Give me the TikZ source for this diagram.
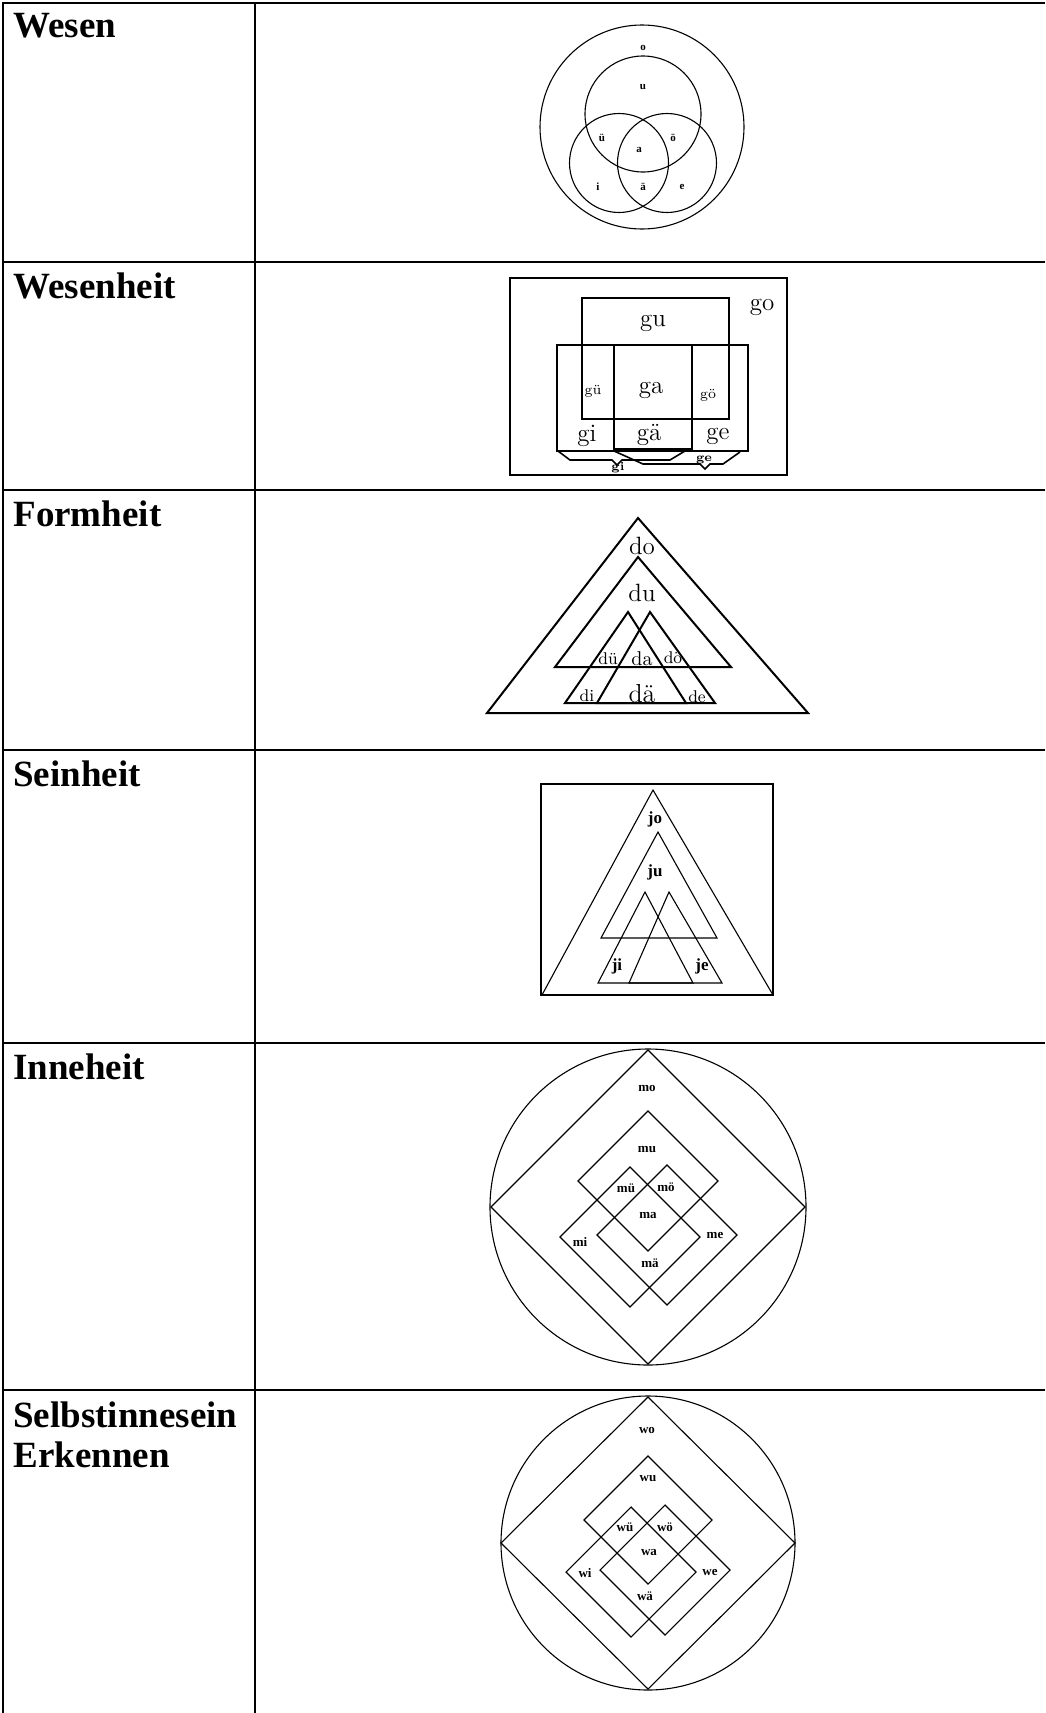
\documentclass[tikz,border=0pt]{standalone}
\usepackage{fontspec}
\newfontfamily\tnr{Liberation Serif}
\usetikzlibrary{positioning}
\tikzset{
  tabline/.style={line width=1.1pt},
  hairline/.style={line width=0.55pt},
  boldline/.style={line width=1pt},
  braceline/.style={line width=0.8pt},
  rowlabel/.style={anchor=base west, inner sep=0pt, align=left,
    font=\tnr\bfseries\fontsize{18.5}{20}\selectfont},
  tinyvowel/.style={inner sep=0pt, font=\tnr\bfseries\fontsize{5.5}{6}\selectfont},
  bigsyl/.style={inner sep=0pt, font=\fontsize{12.5}{14}\selectfont},
  smallsyl/.style={inner sep=0pt, font=\fontsize{8.5}{10}\selectfont},
  bracesyl/.style={inner sep=0pt, font=\bfseries\fontsize{6}{7}\selectfont},
  boldsyl/.style={inner sep=0pt, font=\tnr\bfseries\fontsize{8.5}{10}\selectfont},
  tinysyl/.style={inner sep=0pt, font=\tnr\bfseries\fontsize{6.5}{8}\selectfont}
}

\begin{document}
\begin{tikzpicture}[x=0.5pt, y=-0.5pt]
  \useasboundingbox (0,0) rectangle (1045,1713);

  % Table
  \draw[tabline] (3,1713) -- (3,3) -- (1045,3);
  \draw[tabline] (255,3) -- (255,1713);
  \foreach \yrow in {262,490,750,1043,1390}
    \draw[tabline] (3,\yrow) -- (1045,\yrow);

  % Row labels
  \node[rowlabel] (lWesen) at (13,38) {Wesen};
  \node[rowlabel] (lWesenheit) at (13,298) {Wesenheit};
  \node[rowlabel] (lFormheit) at (13,526) {Formheit};
  \node[rowlabel] (lSeinheit) at (13,786) {Seinheit};
  \node[rowlabel] (lInneheit) at (13,1079) {Inneheit};
  \node[rowlabel] (lSelbst) at (13,1467) {Selbstinnesein\\Erkennen};

  % Wesen: circles
  \draw[hairline] (642,127) circle (102);
  \draw[hairline] (643,114) circle (58);
  \draw[hairline] (619,163) circle (49.5);
  \draw[hairline] (667,163) circle (49.5);
  \node[tinyvowel] (vO) at (643,48) {o};
  \node[tinyvowel] (vU) at (643,87) {u};
  \node[tinyvowel] (vUe) at (602,138) {ü};
  \node[tinyvowel] (vA) at (639,150) {a};
  \node[tinyvowel] (vOe) at (673,138) {ö};
  \node[tinyvowel] (vI) at (598,187) {i};
  \node[tinyvowel] (vAe) at (643,187) {ä};
  \node[tinyvowel] (vE) at (682,187) {e};

  % Wesenheit: boxes
  \draw[boldline] (510,278) rectangle (787,475);
  \draw[boldline] (582,298) rectangle (729,419);
  \draw[boldline] (557,345) rectangle (748,451);
  \draw[boldline] (614,345) rectangle (692,449);
  \draw[braceline] (558,451) -- (570,460) -- (612,460) -- (617,465) -- (622,460)
    -- (670,460) -- (685,451);
  \draw[braceline] (614,451) -- (643,464) -- (700,464) -- (705,469) -- (710,464)
    -- (723,464) -- (740,452);
  \node[bigsyl] (gO) at (762,307) {go};
  \node[bigsyl] (gU) at (653,323) {gu};
  \node[smallsyl, font=\fontsize{7}{8}\selectfont] (gUe) at (593,391) {gü};
  \node[bigsyl] (gA) at (651,390) {ga};
  \node[smallsyl, font=\fontsize{7}{8}\selectfont] (gOe) at (708,395) {gö};
  \node[bigsyl] (gI) at (587,436) {gi};
  \node[bigsyl] (gAe) at (649,435) {gä};
  \node[bigsyl] (gE) at (718,436) {ge};
  \node[bracesyl] (gIb) at (618,468) {gi};
  \node[bracesyl] (gEb) at (704,460) {ge};

  % Formheit: triangles
  \draw[boldline] (638,518) -- (808,713) -- (487,713) -- cycle;
  \draw[boldline] (638,557) -- (731,667) -- (555,667) -- cycle;
  \draw[boldline] (628,612) -- (686,703) -- (565,703) -- cycle;
  \draw[boldline] (650,612) -- (715,703) -- (597,703) -- cycle;
  \node[bigsyl] (dO) at (642,546) {do};
  \node[bigsyl] (dU) at (642,593) {du};
  \node[smallsyl] (dUe) at (608,659) {dü};
  \node[smallsyl, font=\fontsize{10}{12}\selectfont] (dA) at (642,659) {da};
  \node[smallsyl] (dOe) at (673,658) {dö};
  \node[smallsyl] (dI) at (587,696) {di};
  \node[bigsyl, font=\fontsize{13}{15}\selectfont] (dAe) at (642,694) {dä};
  \node[smallsyl] (dE) at (697,697) {de};

  % Seinheit: box and triangles
  \draw[hairline] (541,784) rectangle (773,995);
  \draw[hairline] (653,790) -- (773,995) -- (542,995) -- cycle;
  \draw[hairline] (658,832) -- (717,938) -- (601,938) -- cycle;
  \draw[hairline] (645,892) -- (693,983) -- (598,983) -- cycle;
  \draw[hairline] (669,892) -- (722,983) -- (629,983) -- cycle;
  \node[boldsyl] (jO) at (655,819) {jo};
  \node[boldsyl] (jU) at (655,872) {ju};
  \node[boldsyl] (jI) at (617,966) {ji};
  \node[boldsyl] (jE) at (702,966) {je};

  % Inneheit: circle and diamonds
  \draw[hairline] (648,1207) circle (158);
  \draw[hairline] (648,1050) -- (805,1207) -- (648,1364) -- (491,1207) -- cycle;
  \draw[hairline] (648,1111) -- (718,1181) -- (648,1251) -- (578,1181) -- cycle;
  \draw[hairline] (630,1167) -- (700,1237) -- (630,1307) -- (560,1237) -- cycle;
  \draw[hairline] (667,1165) -- (737,1235) -- (667,1305) -- (597,1235) -- cycle;
  \node[tinysyl] (mO) at (647,1088) {mo};
  \node[tinysyl] (mU) at (647,1150) {mu};
  \node[tinysyl] (mUe) at (626,1188) {mü};
  \node[tinysyl] (mOe) at (666,1187) {mö};
  \node[tinysyl] (mA) at (648,1215) {ma};
  \node[tinysyl] (mI) at (580,1242) {mi};
  \node[tinysyl] (mE) at (715,1235) {me};
  \node[tinysyl] (mAe) at (650,1263) {mä};

  % Selbstinnesein Erkennen: circle and diamonds
  \draw[hairline] (648,1543) circle (147);
  \draw[hairline] (648,1397) -- (795,1543) -- (648,1689) -- (501,1543) -- cycle;
  \draw[hairline] (648,1456) -- (712,1520) -- (648,1584) -- (584,1520) -- cycle;
  \draw[hairline] (631,1507) -- (696,1572) -- (631,1637) -- (566,1572) -- cycle;
  \draw[hairline] (665,1505) -- (730,1570) -- (665,1635) -- (600,1570) -- cycle;
  \node[tinysyl] (wO) at (647,1430) {wo};
  \node[tinysyl] (wU) at (648,1479) {wu};
  \node[tinysyl] (wUe) at (625,1527) {wü};
  \node[tinysyl] (wOe) at (665,1527) {wö};
  \node[tinysyl] (wA) at (649,1552) {wa};
  \node[tinysyl] (wI) at (585,1573) {wi};
  \node[tinysyl] (wE) at (710,1572) {we};
  \node[tinysyl] (wAe) at (645,1596) {wä};
\end{tikzpicture}
\end{document}
